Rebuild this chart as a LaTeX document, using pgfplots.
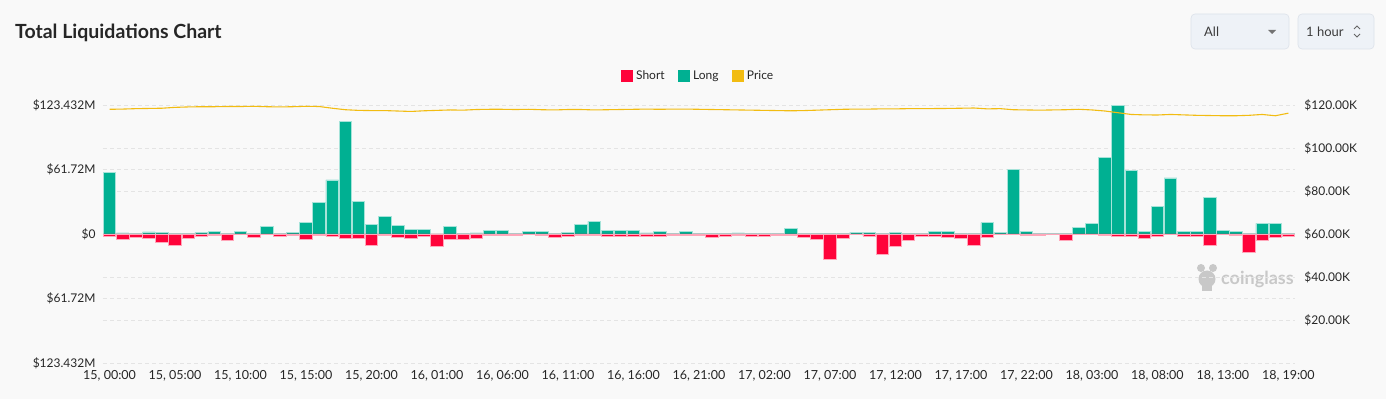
\documentclass[border=0pt]{standalone}
\usepackage{fontspec}
\setmainfont{Lato}
\usepackage{pgfplots}
\pgfplotsset{compat=1.18}
\usepackage{pgfplotstable}

\definecolor{bg}{RGB}{249,249,249}
\definecolor{longc}{RGB}{0,176,146}
\definecolor{shortc}{RGB}{255,3,58}
\definecolor{pricec}{RGB}{242,188,18}
\definecolor{gridc}{RGB}{228,228,228}
\definecolor{txt}{RGB}{38,38,38}
\definecolor{btn}{RGB}{238,242,247}
\definecolor{btnb}{RGB}{220,226,234}
\definecolor{wm}{RGB}{200,200,200}

\pgfplotstableread{
i long short price
0 59.3 2.2 118.0
1 1.0 5.0 118.1
2 0.7 3.0 118.3
3 2.0 4.0 118.4
4 1.6 8.0 118.5
5 0.3 10.5 118.9
6 0.4 3.8 119.1
7 1.3 2.0 119.2
8 2.2 1.6 119.2
9 0.3 5.7 119.3
10 2.2 0.3 119.3
11 0.6 3.5 119.4
12 7.3 0.5 119.2
13 0.3 2.0 119.1
14 1.6 1.0 119.2
15 11.0 5.0 119.4
16 30.0 1.0 119.3
17 51.7 2.0 118.5
18 108.0 3.8 117.8
19 31.4 4.4 117.5
20 8.9 10.5 117.4
21 16.5 1.6 117.4
22 8.2 3.0 117.2
23 4.4 3.8 117.0
24 4.1 2.2 117.3
25 0.0 11.4 117.5
26 7.3 4.8 117.7
27 0.3 5.4 117.6
28 1.0 3.8 117.9
29 3.2 1.0 118.0
30 3.8 1.0 118.0
31 0.3 1.0 117.9
32 2.5 0.6 118.0
33 2.2 1.0 117.8
34 0.3 3.5 117.7
35 1.3 2.0 117.9
36 8.9 1.6 117.9
37 12.0 1.0 117.7
38 3.2 2.0 117.8
39 3.5 2.0 117.9
40 3.5 2.5 118.0
41 1.0 2.2 118.1
42 2.2 2.0 118.0
43 0.6 1.6 118.1
44 2.8 1.0 118.1
45 0.5 1.2 118.0
46 0.3 2.9 117.9
47 0.3 1.9 117.8
48 1.0 0.9 117.7
49 0.6 1.9 117.6
50 0.6 1.9 117.5
51 0.6 1.3 117.4
52 5.7 0.9 117.3
53 0.3 3.5 117.4
54 0.2 5.1 117.6
55 0.6 23.8 117.8
56 0.6 3.8 118.0
57 1.9 0.6 118.1
58 1.6 1.9 118.1
59 0.6 19.3 118.2
60 1.6 11.4 118.2
61 0.6 5.7 118.3
62 0.6 1.9 118.3
63 2.2 2.5 118.35
64 2.5 3.5 118.4
65 0.6 3.8 118.5
66 0.2 11.1 118.6
67 10.8 3.5 118.2
68 1.9 0.6 118.3
69 61.5 0.6 117.8
70 2.2 1.3 117.7
71 0.2 1.6 117.6
72 0.6 0.3 117.7
73 0.3 6.3 117.8
74 6.0 0.6 118.0
75 10.5 0.6 117.7
76 73.5 0.9 117.2
77 123.4 1.9 116.4
78 60.5 2.5 115.6
79 2.2 4.4 115.4
80 26.0 1.9 115.35
81 53.6 0.6 115.6
82 2.5 1.9 115.4
83 2.5 2.5 115.2
84 34.6 10.5 115.1
85 3.5 0.6 115.0
86 2.2 0.9 115.0
87 0.6 17.8 115.2
88 10.1 6.3 115.6
89 9.8 3.5 115.0
90 0.3 2.2 116.2
}\data

\begin{document}
\begin{tikzpicture}
\useasboundingbox (0,0) rectangle (1386pt,399pt);
\fill[bg] (0,0) rectangle (1386pt,399pt);

% title
\node[anchor=west, inner sep=0pt, text=txt, font=\fontsize{19.5}{22}\selectfont\bfseries] at (15pt,366pt) {Total Liquidations Chart};

% controls
\draw[fill=btn, draw=btnb, rounded corners=4pt, line width=0.6pt] (1191pt,350pt) rectangle (1289pt,385pt);
\node[anchor=west, inner sep=0pt, text=txt!90, font=\fontsize{13}{15}\selectfont] at (1204pt,367.5pt) {All};
\fill[black!55] (1268pt,369pt) -- (1276pt,369pt) -- (1272pt,365pt) -- cycle;
\draw[fill=btn, draw=btnb, rounded corners=4pt, line width=0.6pt] (1298pt,350pt) rectangle (1374pt,385pt);
\node[anchor=west, inner sep=0pt, text=txt!90, font=\fontsize{13}{15}\selectfont] at (1306pt,367.5pt) {1 hour};
\draw[black!60, line width=0.8pt] (1354pt,370pt) -- (1357pt,373pt) -- (1360pt,370pt);
\draw[black!60, line width=0.8pt] (1354pt,365pt) -- (1357pt,362pt) -- (1360pt,365pt);

% watermark
\fill[wm] (1207pt,120pt) circle (8.5pt);
\fill[wm] (1201pt,131pt) circle (4pt);
\fill[wm] (1213pt,131pt) circle (4pt);
\fill[wm] (1202pt,108pt) rectangle (1212pt,113pt);
\node[anchor=west, inner sep=0pt, text=wm, font=\fontsize{18}{20}\selectfont\bfseries] at (1221pt,120pt) {coinglass};

\begin{axis}[
  at={(103pt,36pt)}, anchor=south west, scale only axis,
  width=1192pt, height=258pt,
  xmin=-0.5, xmax=90.5, ymin=-123.432, ymax=123.432,
  axis line style={draw=none}, major tick length=0pt,
  xtick={0,5,...,90},
  xticklabels={{15, 00:00},{15, 05:00},{15, 10:00},{15, 15:00},{15, 20:00},{16, 01:00},{16, 06:00},{16, 11:00},{16, 16:00},{16, 21:00},{17, 02:00},{17, 07:00},{17, 12:00},{17, 17:00},{17, 22:00},{18, 03:00},{18, 08:00},{18, 13:00},{18, 19:00}},
  ytick={-123.432,-61.72,0,61.72,123.432},
  yticklabels={\$123.432M,\$61.72M,\$0,\$61.72M,\$123.432M},
  extra y ticks={-82.288,-41.144,41.144,82.288},
  extra y tick labels={},
  extra y tick style={grid=major},
  ymajorgrids,
  grid style={draw=gridc, dash pattern=on 4pt off 3pt, line width=0.6pt},
  xticklabel style={anchor=north, yshift=-4pt, text=txt, font=\fontsize{12.5}{14}\selectfont},
  yticklabel style={anchor=east, xshift=-4pt, text=txt, font=\fontsize{12}{14}\selectfont},
  legend columns=-1,
  legend style={at={(0.5,1)}, anchor=south, yshift=18pt, draw=none, fill=none,
    font=\fontsize{12}{14}\selectfont, text=txt,
    /tikz/every even column/.append style={column sep=10pt},
    nodes={inner sep=3.5pt}},
]
\addlegendimage{legend image code/.code={\fill[shortc] (0pt,-5pt) rectangle (11pt,6pt);}}
\addlegendentry{Short}
\addlegendimage{legend image code/.code={\fill[longc] (0pt,-5pt) rectangle (11pt,6pt);}}
\addlegendentry{Long}
\addlegendimage{legend image code/.code={\fill[pricec] (0pt,-5pt) rectangle (11pt,6pt);}}
\addlegendentry{Price}
\addplot[ybar, bar width=0.96, bar shift=0pt, fill=longc, draw=longc!35!white, line width=0.7pt, forget plot]
  table[x=i, y=long]{\data};
\addplot[ybar, bar width=0.96, bar shift=0pt, fill=shortc, draw=shortc!35!white, line width=0.7pt, forget plot]
  table[x=i, y expr=-\thisrow{short}]{\data};
\end{axis}

\begin{axis}[
  at={(103pt,36pt)}, anchor=south west, scale only axis,
  width=1192pt, height=258pt,
  xmin=-0.5, xmax=90.5, ymin=0, ymax=120,
  hide x axis, axis y line*=right, axis line style={draw=none}, major tick length=0pt,
  ytick={20,40,60,80,100,120},
  yticklabels={\$20.00K,\$40.00K,\$60.00K,\$80.00K,\$100.00K,\$120.00K},
  yticklabel style={anchor=west, xshift=6pt, text=txt, font=\fontsize{12}{14}\selectfont},
]
\addplot[pricec, line width=1.1pt, no marks] table[x=i, y=price]{\data};
\end{axis}
\end{tikzpicture}
\end{document}
